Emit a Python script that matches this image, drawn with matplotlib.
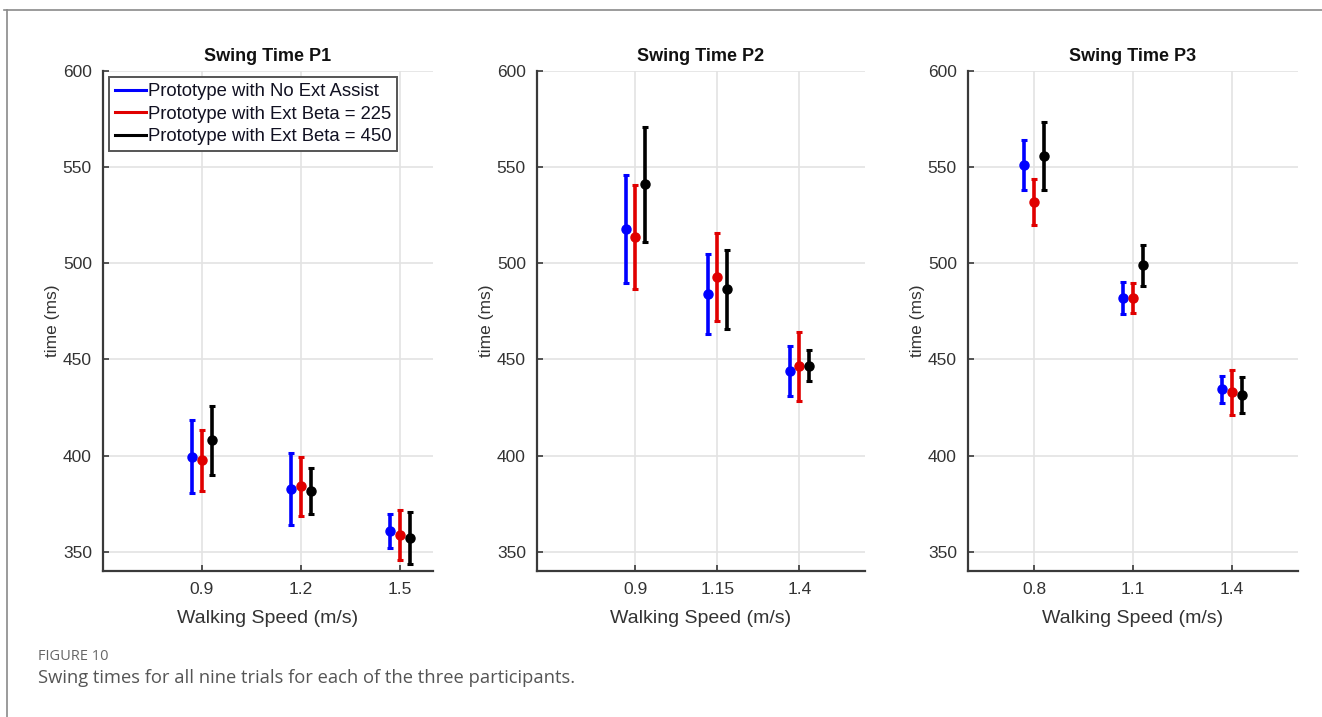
import numpy as np
import matplotlib

matplotlib.use("Agg")
import matplotlib.pyplot as plt
from matplotlib.lines import Line2D

# walking speeds per participant
speeds_p1 = [0.9, 1.2, 1.5]
speeds_p2 = [0.9, 1.15, 1.4]
speeds_p3 = [0.8, 1.1, 1.4]
speed_labels_p1 = ["0.9", "1.2", "1.5"]
speed_labels_p2 = ["0.9", "1.15", "1.4"]
speed_labels_p3 = ["0.8", "1.1", "1.4"]

# swing time means / std (ms): no assist, beta 225, beta 450
p1_no_assist = [399.5, 382.5, 360.8]
p1_no_assist_err = [19.0, 18.7, 9.0]
p1_beta225 = [397.5, 384.0, 358.5]
p1_beta225_err = [16.0, 15.5, 13.0]
p1_beta450 = [408.0, 381.5, 357.0]
p1_beta450_err = [18.0, 12.0, 13.5]

p2_no_assist = [518.0, 484.0, 444.0]
p2_no_assist_err = [28.0, 20.6, 13.0]
p2_beta225 = [513.5, 493.0, 446.5]
p2_beta225_err = [27.0, 23.0, 18.0]
p2_beta450 = [541.0, 486.5, 446.8]
p2_beta450_err = [30.0, 20.5, 8.0]

p3_no_assist = [551.0, 482.0, 434.4]
p3_no_assist_err = [13.0, 8.2, 7.0]
p3_beta225 = [532.0, 482.0, 433.0]
p3_beta225_err = [12.0, 8.0, 11.7]
p3_beta450 = [556.0, 499.0, 431.6]
p3_beta450_err = [17.7, 10.6, 9.5]

series_labels = [
    "Prototype with No Ext Assist",
    "Prototype with Ext Beta = 225",
    "Prototype with Ext Beta = 450",
]
colors = ["#0000ff", "#e00000", "#000000"]
offsets = [-0.03, 0.0, 0.03]

panels = [
    ("Swing Time P1", speeds_p1, speed_labels_p1,
     [(p1_no_assist, p1_no_assist_err), (p1_beta225, p1_beta225_err), (p1_beta450, p1_beta450_err)]),
    ("Swing Time P2", speeds_p2, speed_labels_p2,
     [(p2_no_assist, p2_no_assist_err), (p2_beta225, p2_beta225_err), (p2_beta450, p2_beta450_err)]),
    ("Swing Time P3", speeds_p3, speed_labels_p3,
     [(p3_no_assist, p3_no_assist_err), (p3_beta225, p3_beta225_err), (p3_beta450, p3_beta450_err)]),
]

plt.rcParams["font.family"] = ["Liberation Sans", "DejaVu Sans"]

W, H = 1322, 717
fig = plt.figure(figsize=(W / 100, H / 100), dpi=100)

ax_px = [(103, 433), (537, 865), (968, 1298)]
top_px, bot_px = 71, 571

for (x0, x1), (title, speeds, labels, series) in zip(ax_px, panels):
    ax = fig.add_axes([x0 / W, (H - bot_px) / H, (x1 - x0) / W, (bot_px - top_px) / H])
    for (vals, errs), color, off in zip(series, colors, offsets):
        x = np.asarray(speeds) + off
        ax.errorbar(x, vals, yerr=errs, fmt="o", color=color, ecolor=color,
                    elinewidth=2.6, capsize=2.5, capthick=2.2, markersize=6.5, zorder=3)
    ax.set_xlim(0.6, 1.6)
    ax.set_ylim(340, 600)
    ax.set_xticks(speeds)
    ax.set_xticklabels(labels)
    ax.set_yticks([350, 400, 450, 500, 550, 600])
    ax.grid(True, color="#e3e3e3", linewidth=1.2, zorder=0)
    ax.set_axisbelow(True)
    for side in ["top", "right"]:
        ax.spines[side].set_visible(False)
    for side in ["left", "bottom"]:
        ax.spines[side].set_color("#3a3a3a")
        ax.spines[side].set_linewidth(1.6)
    ax.tick_params(direction="in", length=4, width=1.2, color="#3a3a3a",
                   labelsize=12.5, labelcolor="#333333", pad=8)
    ax.set_title(title, fontsize=13, fontweight="bold", pad=7, color="#111111")
    ax.set_xlabel("Walking Speed (m/s)", fontsize=14, color="#333333", labelpad=9)
    ax.set_ylabel("time (ms)", fontsize=12.5, color="#333333", labelpad=2)

    if title.endswith("P1"):
        handles = [Line2D([0], [0], color=c, linewidth=2.2) for c in colors]
        leg = ax.legend(handles, series_labels, loc="upper left", fontsize=13.3,
                        handlelength=1.7, handletextpad=0.1, borderpad=0.3,
                        labelspacing=0.3, borderaxespad=0.35, fancybox=False,
                        framealpha=1, edgecolor="#555555")
        leg.get_frame().set_linewidth(1.4)
        for t in leg.get_texts():
            t.set_color("#111122")

# page border lines
fig.add_artist(Line2D([4 / W, 1.0], [1 - 10 / H, 1 - 10 / H], color="#8a8a8a", linewidth=1.2))
fig.add_artist(Line2D([7 / W, 7 / W], [0.0, 1 - 10 / H], color="#8a8a8a", linewidth=1.2))

fig.text(38 / W, 1 - 656 / H, "FIGURE 10", fontsize=10.5, color="#666666",
         family=["Open Sans", "DejaVu Sans"], va="center")
fig.text(38 / W, 1 - 678 / H, "Swing times for all nine trials for each of the three participants.",
         fontsize=13.2, color="#555555", family=["Open Sans", "DejaVu Sans"], va="center")

fig.savefig("out.png", dpi=100)
